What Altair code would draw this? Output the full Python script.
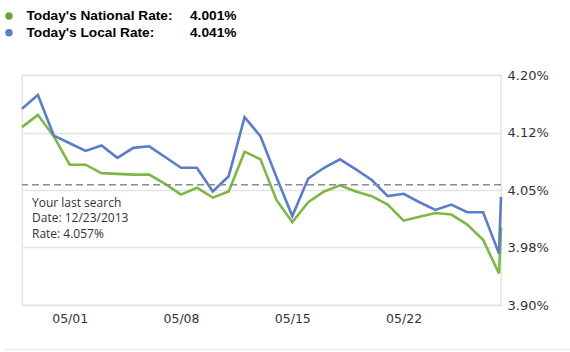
import altair as alt
import pandas as pd

# ---- data ----
day_labels = ["2014-04-28", "2014-04-29", "2014-04-30"] + [f"2014-05-{d:02d}" for d in range(1, 29)]
dates = [d + "T00:00:00Z" for d in day_labels] + ["2014-05-28T03:00:00Z"]

national = [4.132, 4.148, 4.120, 4.083, 4.083, 4.072, 4.071, 4.070, 4.070, 4.058,
            4.044, 4.053, 4.040, 4.048, 4.100, 4.090, 4.037, 4.008, 4.034, 4.048,
            4.056, 4.048, 4.042, 4.031, 4.010, 4.015, 4.020, 4.018, 4.005, 3.985,
            3.941, 4.001]
local = [4.156, 4.174, 4.121, 4.111, 4.101, 4.108, 4.092, 4.105, 4.107, 4.093,
         4.079, 4.079, 4.048, 4.068, 4.145, 4.120, 4.067, 4.016, 4.065, 4.079,
         4.090, 4.077, 4.063, 4.042, 4.045, 4.034, 4.024, 4.031, 4.021, 4.021,
         3.967, 4.041]

y_ticks = [3.90, 3.975, 4.05, 4.125, 4.20]
y_tick_labels = ["3.90%", "3.98%", "4.05%", "4.12%", "4.20%"]
x_tick_dates = [(2014, 5, 1), (2014, 5, 8), (2014, 5, 15), (2014, 5, 22)]

legend_names = ["Today's National Rate:", "Today's Local Rate:"]
legend_values = ["4.001%", "4.041%"]

last_search_rate = 4.057
last_search_text = ["Your last search", "Date: 12/23/2013", "Rate: 4.057%"]

GREEN = "#7cb843"
BLUE = "#5b7cc6"
GREEN_DOT = "#6aa327"
BLUE_DOT = "#5b7cc6"

W, H = 479, 230

df = pd.DataFrame({"date": dates, "national": national, "local": local})

label_expr = " : ".join(
    f"abs(datum.value - {v}) < 0.001 ? '{l}'" for v, l in zip(y_ticks, y_tick_labels)
) + " : ''"

x_scale = alt.Scale(type="utc", domain=[dates[0], dates[-1]], nice=False)
x_axis = alt.Axis(
    values=[alt.DateTime(year=a, month=b, date=c, utc=True) for a, b, c in x_tick_dates],
    labelExpr="utcFormat(datum.value, '%m/%d')", title=None, ticks=False, domain=False,
    grid=False, labelFont="DejaVu Sans", labelFontSize=12.5, labelColor="#333333",
    labelPadding=7,
)
y_scale = alt.Scale(domain=[3.90, 4.20], nice=False, zero=False)
y_axis = alt.Axis(
    orient="right", values=y_ticks, labelExpr=label_expr, title=None, ticks=False,
    domain=False, grid=True, gridColor="#e4e4e4", gridWidth=1.3,
    labelFont="DejaVu Sans", labelFontSize=13, labelColor="#333333", labelPadding=6,
)

base = alt.Chart(df)

green_line = base.mark_line(color=GREEN, strokeWidth=2.6, strokeJoin="miter").encode(
    x=alt.X("date:T", scale=x_scale, axis=x_axis),
    y=alt.Y("national:Q", scale=y_scale, axis=y_axis),
)
blue_line = base.mark_line(color=BLUE, strokeWidth=2.6, strokeJoin="miter").encode(
    x=alt.X("date:T", scale=x_scale, axis=x_axis),
    y=alt.Y("local:Q", scale=y_scale, axis=y_axis),
)

ann_df = pd.DataFrame({"rate": [last_search_rate]})
dash = alt.Chart(ann_df).mark_rule(color="#8c8c8c", strokeDash=[7, 4], strokeWidth=1.5).encode(
    y="rate:Q"
)

layers = [green_line, blue_line, dash]

# annotation for the last search, one text mark per line
for i, line in enumerate(last_search_text):
    tdf = pd.DataFrame({"rate": [last_search_rate], "txt": [line]})
    layers.append(alt.Chart(tdf).mark_text(
        align="left", baseline="middle", font="Open Sans", fontSize=12, color="#333333",
        dy=18.5 + i * 15.3,
    ).encode(x=alt.value(10), y="rate:Q", text="txt:N"))

# legend at the top
for i, (name, val, col) in enumerate(zip(legend_names, legend_values, [GREEN_DOT, BLUE_DOT])):
    yy = -59 + i * 16.8
    ldf = pd.DataFrame({"name": [name], "val": [val]})
    layers.append(alt.Chart(ldf).mark_point(filled=True, color=col, opacity=1, size=55).encode(
        x=alt.value(-13), y=alt.value(yy)))
    layers.append(alt.Chart(ldf).mark_text(
        align="left", baseline="middle", font="Liberation Sans", fontWeight="bold",
        fontSize=13.7, color="#000000").encode(x=alt.value(4.5), y=alt.value(yy), text="name:N"))
    layers.append(alt.Chart(ldf).mark_text(
        align="left", baseline="middle", font="Liberation Sans", fontWeight="bold",
        fontSize=13.7, color="#000000").encode(x=alt.value(168), y=alt.value(yy), text="val:N"))

# faint separator at the bottom
layers.append(alt.Chart(ann_df).mark_rule(color="#eeeeee", strokeWidth=1.5).encode(
    x=alt.value(-17), x2=alt.value(548), y=alt.value(274.5)))

chart = alt.layer(*layers).properties(
    width=W, height=H,
    autosize=alt.AutoSizeParams(type="none"),
    padding={"left": 22, "top": 75, "right": 69, "bottom": 47},
    background="white",
).configure_view(stroke="#e2e2e2", strokeWidth=1.3)

chart.save("out.html", embed_options={"renderer": "svg", "actions": False})
